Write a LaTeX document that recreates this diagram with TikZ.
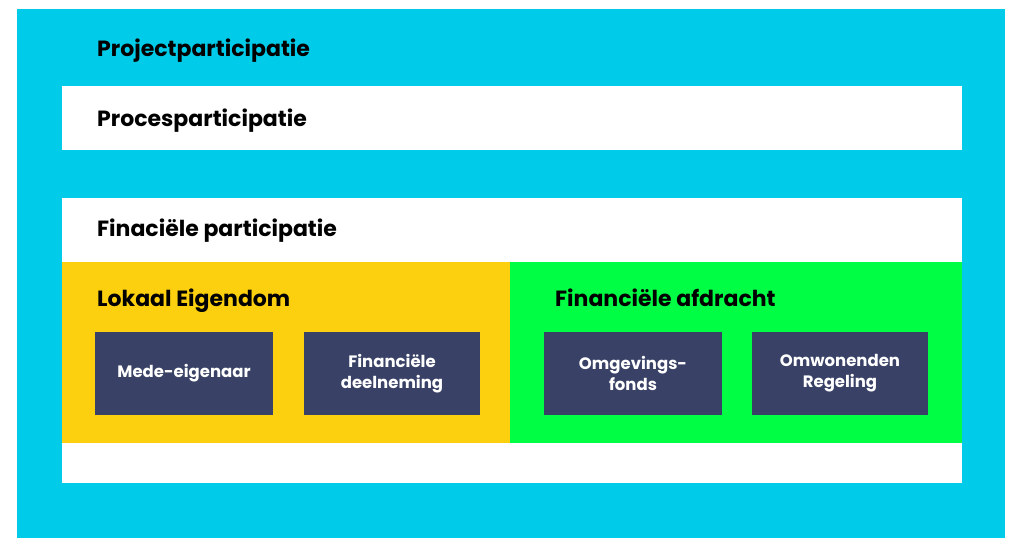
\documentclass[tikz,border=0pt]{standalone}
\usepackage{fontspec}
\setmainfont{Poppins}
\definecolor{cyanbg}{RGB}{0,204,234}
\definecolor{yellowbg}{RGB}{252,208,14}
\definecolor{greenbg}{RGB}{0,255,68}
\definecolor{navy}{RGB}{57,66,102}
\tikzset{
  area/.style={fill=#1, draw=none},
  title/.style={anchor=base west, inner sep=0pt, font=\fontsize{22}{26}\selectfont\bfseries, text=black},
  boxlabel/.style={fill=navy, draw=none, text=white, align=center, inner sep=0pt,
     font=\fontsize{16.5}{21}\selectfont\bfseries}
}
\begin{document}
\begin{tikzpicture}[x=1pt,y=-1pt]
\useasboundingbox (0,0) rectangle (1009,538);
\fill[white] (0,0) rectangle (1009,538);
\fill[area=cyanbg] (17,9) rectangle (1005,538);
\fill[area=white] (62,86) rectangle (962,150);
\fill[area=white] (62,198) rectangle (962,483);
\fill[area=yellowbg] (62,262) rectangle (510,443);
\fill[area=greenbg] (510,262) rectangle (962,443);
\node[title] (proj) at (97,56) {Projectparticipatie};
\node[title] (proc) at (97,126) {Procesparticipatie};
\node[title] (fin) at (97,236) {Finaciële participatie};
\node[title] (lok) at (97,306) {Lokaal Eigendom};
\node[title] (afd) at (555,306) {Financiële afdracht};
\node[boxlabel, minimum width=178, minimum height=83] (mede) at (184,373.5) {Mede-eigenaar};
\node[boxlabel, minimum width=176, minimum height=83] (deel) at (392,373.5) {Financiële\\deelneming};
\node[boxlabel, minimum width=178, minimum height=83] (omg) at (633,373.5) {Omgevings-\\fonds};
\node[boxlabel, minimum width=176, minimum height=83] (omw) at (840,373.5) {Omwonenden\\Regeling};
\end{tikzpicture}
\end{document}
